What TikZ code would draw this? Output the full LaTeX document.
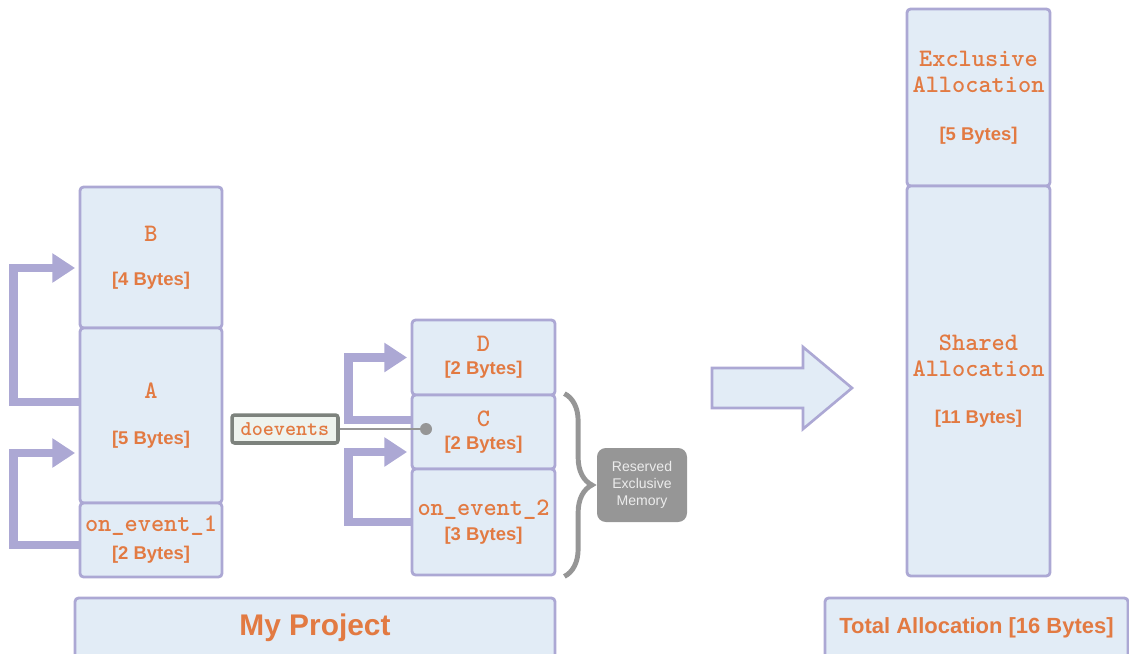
\documentclass[tikz,border=0pt]{standalone}
\usepackage{fontspec}
\setmainfont{Liberation Sans}
\usetikzlibrary{arrows.meta, positioning, decorations.pathreplacing}
\definecolor{memfill}{RGB}{226,236,246}
\definecolor{memline}{RGB}{172,168,212}
\definecolor{memtext}{RGB}{226,122,66}
\definecolor{memgray}{RGB}{150,150,150}
\definecolor{evtline}{RGB}{125,130,125}
\definecolor{evtfill}{RGB}{238,243,238}
\newcommand{\fn}[1]{{\ttfamily\bfseries\fontsize{14.3}{14}\selectfont #1}}
\newcommand{\sz}[1]{{\bfseries\fontsize{10.5}{12}\selectfont [#1 Bytes]}}

\begin{document}
\begin{tikzpicture}[x=0.02cm, y=-0.02cm,
    mem/.style={draw=memline, fill=memfill, line width=1.6pt, rounded corners=2pt,
        text=memtext, align=center, inner sep=0pt, minimum width=2.86cm,
        font=\fontsize{12.5}{14}\selectfont},
    callpath/.style={draw=memline, line width=5pt, -{Triangle[width=16pt,length=13pt]}, shorten >=2pt}]
    \useasboundingbox (0,0) rectangle (1129,653);

    % My Project
    \node[mem, minimum width=2.84cm, minimum height=2.82cm] (B) at (151,257.5) {\fn{B}\\[11pt]\sz{4}};
    \node[mem, minimum width=2.84cm, minimum height=3.5cm] (A) at (151,415.5) {\fn{A}\\[12.5pt]\sz{5}};
    \node[mem, minimum width=2.84cm, minimum height=1.48cm] (E1) at (151,540) {\fn{on\_event\_1}\\[2pt]\sz{2}};

    \node[mem, minimum height=1.5cm] (D) at (483.5,357.5) {\fn{D}\\[-1pt]\sz{2}};
    \node[mem, minimum height=1.48cm] (C) at (483.5,432) {\fn{C}\\[-1pt]\sz{2}};
    \node[mem, minimum height=2.12cm] (E2) at (483.5,522) {\fn{on\_event\_2}\\[0pt]\sz{3}};

    \draw[callpath] ([yshift=0.27cm]A.west) -- ++(-65,0) |- ([yshift=-0.21cm]B.west);
    \draw[callpath] ([yshift=-0.1cm]E1.west) -- ++(-65,0) |- ([yshift=-0.75cm]A.west);
    \draw[callpath] ([yshift=0.24cm]C.west) -- ++(-62,0) |- (D.west);
    \draw[callpath] (E2.west) -- ++(-62,0) |- ([yshift=-0.4cm]C.west);

    \node[draw=evtline, fill=evtfill, line width=2pt, rounded corners=1.5pt, minimum width=2.12cm,
        minimum height=0.56cm, inner sep=0pt, text=memtext, font=\ttfamily\bfseries\fontsize{12}{12}\selectfont] (evt) at (285,429) {doevents};
    \node[circle, fill=memgray, inner sep=0pt, minimum size=0.24cm] (hook) at (426,429) {};
    \draw[memgray, line width=1.5pt] (evt.east) -- (hook);

    % reserved memory
    \draw[memgray, line width=2.8pt, decorate, decoration={brace, amplitude=0.55cm}]
        ([xshift=0.16cm]C.north east) -- ([xshift=0.16cm]E2.south east);
    \node[fill=memgray, rounded corners=5pt, minimum width=1.8cm, minimum height=1.48cm, align=center,
        text=white!85!gray, font=\fontsize{8}{9.5}\selectfont] (resv) at (642,485) {Reserved\\Exclusive\\Memory};

    \node[mem, minimum width=9.6cm, minimum height=1.2cm, font=\bfseries\fontsize{17}{20}\selectfont] (proj) at (315,628) {My Project};

    % total
    \draw[memline, fill=memfill, line width=1.5pt] (712,368) -- (803,368) -- (803,347) -- (852,388)
        -- (803,429) -- (803,408) -- (712,408) -- cycle;

    \node[mem, minimum height=3.54cm] (excl) at (978.5,97.5) {\fn{Exclusive}\\[1pt]\fn{Allocation}\\[13pt]\sz{5}};
    \node[mem, minimum height=7.8cm] (shared) at (978.5,381) {\fn{Shared}\\[1pt]\fn{Allocation}\\[13pt]\sz{11}};
    \node[mem, minimum width=6.06cm, minimum height=1.2cm, font=\bfseries\fontsize{12.5}{15}\selectfont] (total) at (976.5,628) {Total Allocation [16 Bytes]};
\end{tikzpicture}
\end{document}
